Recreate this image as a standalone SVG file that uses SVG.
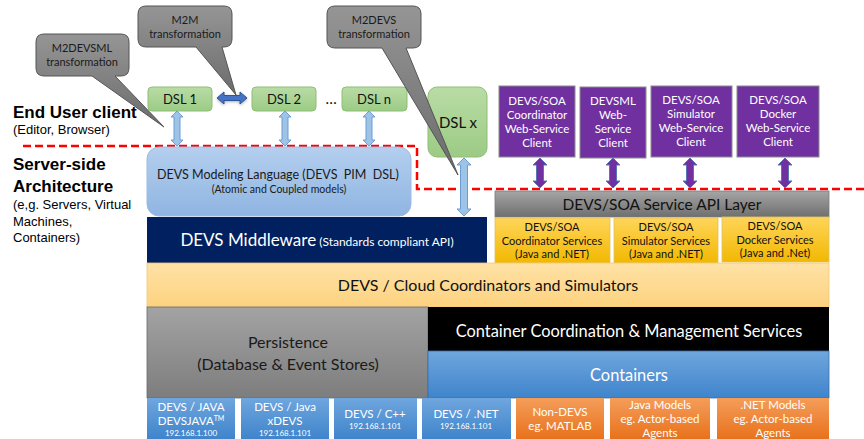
<svg xmlns="http://www.w3.org/2000/svg" width="864" height="439" viewBox="0 0 864 439">
  <defs>
    <linearGradient id="gBubble" x1="0" y1="0" x2="0" y2="1">
      <stop offset="0" stop-color="#959595"/>
      <stop offset="1" stop-color="#6c6c6c"/>
    </linearGradient>
    <linearGradient id="gDsl" x1="0" y1="0" x2="0" y2="1">
      <stop offset="0" stop-color="#b9dca5"/>
      <stop offset="1" stop-color="#9ccb85"/>
    </linearGradient>
    <linearGradient id="gLang" x1="0" y1="0" x2="0" y2="1">
      <stop offset="0" stop-color="#b4cfee"/>
      <stop offset="1" stop-color="#8fb5e2"/>
    </linearGradient>
    <linearGradient id="gApi" x1="0" y1="0" x2="0" y2="1">
      <stop offset="0" stop-color="#a5a5a5"/>
      <stop offset="1" stop-color="#6f6f6f"/>
    </linearGradient>
    <linearGradient id="gGold" x1="0" y1="0" x2="0" y2="1">
      <stop offset="0" stop-color="#ffd55a"/>
      <stop offset="1" stop-color="#f2b800"/>
    </linearGradient>
    <linearGradient id="gCloud" x1="0" y1="0" x2="0" y2="1">
      <stop offset="0" stop-color="#ffe2a6"/>
      <stop offset="1" stop-color="#fdd27f"/>
    </linearGradient>
    <linearGradient id="gPersist" x1="0" y1="0" x2="0" y2="1">
      <stop offset="0" stop-color="#a3a3a3"/>
      <stop offset="1" stop-color="#7d7d7d"/>
    </linearGradient>
    <linearGradient id="gBlue" x1="0" y1="0" x2="0" y2="1">
      <stop offset="0" stop-color="#6fa6de"/>
      <stop offset="1" stop-color="#3f84cb"/>
    </linearGradient>
    <linearGradient id="gOrange" x1="0" y1="0" x2="0" y2="1">
      <stop offset="0" stop-color="#f49d5a"/>
      <stop offset="1" stop-color="#e8721c"/>
    </linearGradient>
    <filter id="shadow" x="-20%" y="-40%" width="140%" height="180%">
      <feDropShadow dx="0" dy="1" stdDeviation="1.5" flood-color="#000" flood-opacity="0.3"/>
    </filter>
  </defs>
  <style>
    text { font-family: Lato, "Open Sans", sans-serif; text-anchor: middle; }
    .lbl { font-family: "Liberation Sans", Arial, sans-serif; text-anchor: start; fill: #000; }
    .h { font-weight: bold; font-size: 17px; }
    .sub { font-size: 13px; }
    .bubble { fill: url(#gBubble); stroke: #555; stroke-width: 1; }
    .btxt { font-size: 11px; fill: #1a1a1a; }
    .dsl { fill: url(#gDsl); stroke: #8dbf75; stroke-width: 1; }
    .dtxt { font-size: 13px; fill: #111; }
    .purple { fill: #7030a0; stroke: #8c8c8c; stroke-width: 1; }
    .ptxt { font-size: 11.5px; fill: #fff; }
    .gold { fill: url(#gGold); stroke: #e0c060; stroke-width: 0.8; }
    .gtxt { font-size: 11px; fill: #111; }
    .bbox { fill: url(#gBlue); }
    .obox { fill: url(#gOrange); }
    .wtxt { font-size: 11.5px; fill: #fff; }
    .ip { font-size: 8px; fill: #fff; }
    .ua { fill: #9dc3e6; stroke: #6c9dd3; stroke-width: 1; }
    .pa { fill: #7030a0; stroke: #5a74b8; stroke-width: 1; }
    .ha { fill: #4472c4; stroke: #2f5597; stroke-width: 1; }
    .boundary { fill: none; stroke: #ff0000; stroke-width: 2.5; stroke-dasharray: 8 4; }
  </style>

  <rect width="864" height="439" fill="#ffffff"/>

  <!-- left-hand tier labels -->
  <g id="label-client">
    <text class="lbl h" x="13" y="118">End User client</text>
    <text class="lbl sub" x="13" y="134">(Editor, Browser)</text>
  </g>
  <g id="label-server">
    <text class="lbl h" x="13" y="170">Server-side</text>
    <text class="lbl h" x="13" y="192">Architecture</text>
    <text class="lbl sub" x="13" y="209">(e,g. Servers, Virtual</text>
    <text class="lbl sub" x="13" y="226">Machines,</text>
    <text class="lbl sub" x="13" y="242">Containers)</text>
  </g>

  <!-- client / server boundary -->
  <path class="boundary" d="M23,146 H417 V189 H864"/>

  <!-- server-side stack -->
  <g id="devs-modeling-language">
    <rect x="147" y="147" width="264" height="69" rx="12" fill="url(#gLang)" stroke="#9dbbe0" stroke-width="1"/>
    <text x="278" y="179" font-size="12.5" fill="#1a1a1a" xml:space="preserve">DEVS Modeling Language (DEVS  PIM  DSL)</text>
    <text x="279" y="193" font-size="10.5" fill="#1a1a1a">(Atomic and Coupled models)</text>
  </g>

  <g id="devs-middleware">
    <rect x="147" y="217" width="340" height="46" fill="#002060"/>
    <text x="317" y="246" fill="#fff"><tspan font-size="17">DEVS Middleware</tspan><tspan font-size="12"> (Standards compliant API)</tspan></text>
  </g>

  <g id="service-api-layer">
    <rect x="495" y="191" width="334" height="26" fill="url(#gApi)" stroke="#7a7a7a" stroke-width="0.8"/>
    <text x="662" y="210" font-size="15.5" fill="#111">DEVS/SOA Service API Layer</text>
  </g>

  <g id="coordinator-services">
    <rect class="gold" x="495" y="218" width="115" height="45"/>
    <text class="gtxt" x="552" y="231">DEVS/SOA</text>
    <text class="gtxt" x="552" y="245">Coordinator Services</text>
    <text class="gtxt" x="552" y="258">(Java and .NET)</text>
  </g>
  <g id="simulator-services">
    <rect class="gold" x="614" y="218" width="104" height="45"/>
    <text class="gtxt" x="666" y="231">DEVS/SOA</text>
    <text class="gtxt" x="666" y="245">Simulator Services</text>
    <text class="gtxt" x="666" y="258">(Java and .NET)</text>
  </g>
  <g id="docker-services">
    <rect class="gold" x="722" y="217" width="107" height="45"/>
    <text class="gtxt" x="775" y="230">DEVS/SOA</text>
    <text class="gtxt" x="775" y="244">Docker Services</text>
    <text class="gtxt" x="775" y="257">(Java and .Net)</text>
  </g>

  <g id="cloud-coordinators">
    <rect x="147" y="263" width="682" height="44" fill="url(#gCloud)" stroke="#f0c878" stroke-width="0.8"/>
    <text x="488" y="291" font-size="16" fill="#111">DEVS / Cloud Coordinators and Simulators</text>
  </g>

  <g id="persistence">
    <rect x="147" y="307" width="281" height="91" fill="url(#gPersist)" stroke="#6a6a6a" stroke-width="0.8"/>
    <text x="288" y="348" font-size="16" fill="#1a1a1a">Persistence</text>
    <text x="288" y="370" font-size="16" fill="#1a1a1a">(Database &amp; Event Stores)</text>
  </g>

  <g id="container-coordination">
    <rect x="428" y="307" width="401" height="44" fill="#000"/>
    <text x="629" y="337" font-size="16.4" fill="#fff">Container Coordination &amp; Management Services</text>
  </g>

  <g id="containers">
    <rect x="428" y="351" width="401" height="47" fill="url(#gBlue)" stroke="#3b6ea8" stroke-width="0.8"/>
    <text x="629" y="381" font-size="16.4" fill="#fff">Containers</text>
  </g>

  <!-- runtime platforms -->
  <g id="devs-java">
    <rect class="bbox" x="147" y="398" width="88" height="41"/>
    <text class="wtxt" x="191" y="411">DEVS / JAVA</text>
    <text class="wtxt" x="191" y="425">DEVSJAVA<tspan font-size="7" dy="-4">TM</tspan></text>
    <text class="ip" x="191" y="436">192.168.1.100</text>
  </g>
  <g id="devs-xdevs">
    <rect class="bbox" x="241" y="398" width="88" height="41"/>
    <text class="wtxt" x="285" y="411">DEVS / Java</text>
    <text class="wtxt" x="285" y="425">xDEVS</text>
    <text class="ip" x="285" y="436">192.168.1.101</text>
  </g>
  <g id="devs-cpp">
    <rect class="bbox" x="334" y="398" width="83" height="41"/>
    <text class="wtxt" x="375" y="418">DEVS / C++</text>
    <text class="ip" x="375" y="429">192.168.1.101</text>
  </g>
  <g id="devs-dotnet">
    <rect class="bbox" x="422" y="398" width="89" height="41"/>
    <text class="wtxt" x="466" y="418">DEVS / .NET</text>
    <text class="ip" x="466" y="429">192.168.1.101</text>
  </g>
  <g id="non-devs">
    <rect class="obox" x="516" y="398" width="88" height="41"/>
    <text class="wtxt" x="560" y="416">Non-DEVS</text>
    <text class="wtxt" x="560" y="430">eg. MATLAB</text>
  </g>
  <g id="java-models">
    <rect class="obox" x="610" y="398" width="100" height="41"/>
    <text class="wtxt" x="660" y="409">Java Models</text>
    <text class="wtxt" x="660" y="423">eg. Actor-based</text>
    <text class="wtxt" x="660" y="437">Agents</text>
  </g>
  <g id="dotnet-models">
    <rect class="obox" x="717" y="398" width="112" height="41"/>
    <text class="wtxt" x="773" y="409">.NET Models</text>
    <text class="wtxt" x="773" y="423">eg. Actor-based</text>
    <text class="wtxt" x="773" y="437">Agents</text>
  </g>

  <!-- client-side DSLs -->
  <g id="dsl-1">
    <rect class="dsl" x="148" y="87" width="64" height="24" rx="4"/>
    <text class="dtxt" x="180" y="104">DSL 1</text>
  </g>
  <g id="dsl-2">
    <rect class="dsl" x="252" y="87" width="64" height="24" rx="4"/>
    <text class="dtxt" x="284" y="104">DSL 2</text>
  </g>
  <g id="dsl-ellipsis">
    <text x="331" y="104" font-size="15" fill="#111">…</text>
  </g>
  <g id="dsl-n">
    <rect class="dsl" x="342" y="87" width="65" height="24" rx="4"/>
    <text class="dtxt" x="374" y="104">DSL n</text>
  </g>
  <g id="dsl-x">
    <rect class="dsl" x="428" y="87" width="59" height="70" rx="9"/>
    <text x="458" y="128" font-size="15" fill="#111">DSL x</text>
  </g>

  <!-- web-service clients -->
  <g id="coordinator-client">
    <rect class="purple" x="499" y="86" width="76" height="71"/>
    <text class="ptxt" x="537" y="105">DEVS/SOA</text>
    <text class="ptxt" x="537" y="119">Coordinator</text>
    <text class="ptxt" x="537" y="133">Web-Service</text>
    <text class="ptxt" x="537" y="147">Client</text>
  </g>
  <g id="devsml-client">
    <rect class="purple" x="580" y="87" width="66" height="71"/>
    <text class="ptxt" x="613" y="105">DEVSML</text>
    <text class="ptxt" x="613" y="119">Web-</text>
    <text class="ptxt" x="613" y="133">Service</text>
    <text class="ptxt" x="613" y="147">Client</text>
  </g>
  <g id="simulator-client">
    <rect class="purple" x="651" y="86" width="81" height="71"/>
    <text class="ptxt" x="691" y="104">DEVS/SOA</text>
    <text class="ptxt" x="691" y="118">Simulator</text>
    <text class="ptxt" x="691" y="132">Web-Service</text>
    <text class="ptxt" x="691" y="146">Client</text>
  </g>
  <g id="docker-client">
    <rect class="purple" x="737" y="86" width="82" height="71"/>
    <text class="ptxt" x="778" y="104">DEVS/SOA</text>
    <text class="ptxt" x="778" y="118">Docker</text>
    <text class="ptxt" x="778" y="132">Web-Service</text>
    <text class="ptxt" x="778" y="146">Client</text>
  </g>

  <!-- connectors -->
  <g id="connectors">
    <path class="ha" filter="url(#shadow)" d="M217,98 L224,92 V95.5 H240 V92 L247,98 L240,104 V100.5 H224 V104 Z"/>
    <path class="ua" d="M177,111 L183,117 H180 V140 H183 L177,146 L171,140 H174 V117 H171 Z"/>
    <path class="ua" d="M285,111 L291,117 H288 V140 H291 L285,146 L279,140 H282 V117 H279 Z"/>
    <path class="ua" d="M369,111 L375,117 H372 V140 H375 L369,146 L363,140 H366 V117 H363 Z"/>
    <path class="ua" d="M464,158 L471,165 H467.5 V209 H471 L464,216 L457,209 H460.5 V165 H457 Z"/>
    <path class="pa" d="M540,158 L547,165 H543.5 V181 H547 L540,188 L533,181 H536.5 V165 H533 Z"/>
    <path class="pa" d="M613,158 L620,165 H616.5 V181 H620 L613,188 L606,181 H609.5 V165 H606 Z"/>
    <path class="pa" d="M690,158 L697,165 H693.5 V181 H697 L690,188 L683,181 H686.5 V165 H683 Z"/>
    <path class="pa" d="M785,158 L792,165 H788.5 V181 H792 L785,188 L778,181 H781.5 V165 H778 Z"/>
  </g>

  <!-- transformation callouts -->
  <g id="callout-m2devsml">
    <path class="bubble" d="M44,34 H121 Q129,34 129,42 V68 Q129,76 121,76 H115 L164,127 L92,76 H44 Q36,76 36,68 V42 Q36,34 44,34 Z"/>
    <text class="btxt" x="82" y="52">M2DEVSML</text>
    <text class="btxt" x="82" y="66">transformation</text>
  </g>
  <g id="callout-m2m">
    <path class="bubble" d="M146,6 H224 Q232,6 232,14 V39 Q232,47 224,47 H222 L236,95 L196,47 H146 Q138,47 138,39 V14 Q138,6 146,6 Z"/>
    <text class="btxt" x="185" y="24">M2M</text>
    <text class="btxt" x="185" y="38">transformation</text>
  </g>
  <g id="callout-m2devs">
    <path class="bubble" d="M335,6 H413 Q421,6 421,14 V40 Q421,48 413,48 H406 L458,175 L382,48 H335 Q327,48 327,40 V14 Q327,6 335,6 Z"/>
    <text class="btxt" x="374" y="24">M2DEVS</text>
    <text class="btxt" x="374" y="38">transformation</text>
  </g>
</svg>
